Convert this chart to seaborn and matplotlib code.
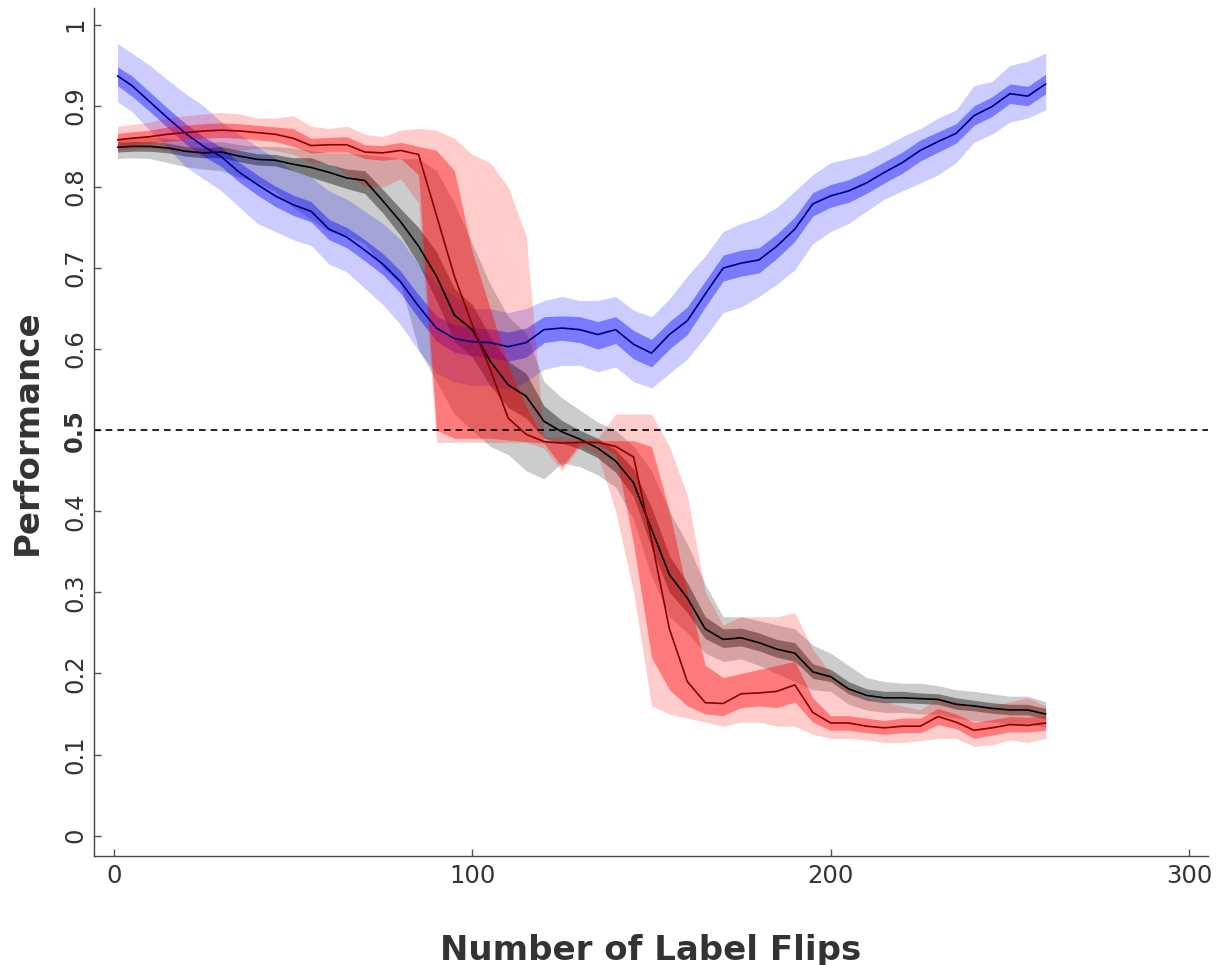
import numpy as np
import pandas as pd
import matplotlib
matplotlib.use("Agg")
import matplotlib.pyplot as plt
import seaborn as sns

# x positions (number of label flips)
flips = [1] + list(range(5, 261, 5))

# blue series: median, inner band, outer band
blue_med = [0.937, 0.925, 0.905, 0.885, 0.866, 0.850, 0.837, 0.818, 0.803, 0.789,
            0.778, 0.770, 0.748, 0.738, 0.722, 0.705, 0.683, 0.653, 0.626, 0.613,
            0.609, 0.608, 0.603, 0.608, 0.624, 0.626, 0.624, 0.618, 0.624, 0.606,
            0.595, 0.618, 0.635, 0.668, 0.700, 0.706, 0.710, 0.727, 0.748, 0.779,
            0.789, 0.795, 0.805, 0.818, 0.830, 0.845, 0.856, 0.866, 0.888, 0.899,
            0.915, 0.912, 0.927]
blue_in_lo = [0.925, 0.912, 0.893, 0.873, 0.853, 0.838, 0.825, 0.806, 0.790, 0.776,
              0.765, 0.757, 0.735, 0.725, 0.709, 0.692, 0.669, 0.638, 0.610, 0.596,
              0.592, 0.590, 0.585, 0.590, 0.608, 0.611, 0.608, 0.600, 0.607, 0.588,
              0.578, 0.600, 0.618, 0.652, 0.684, 0.690, 0.694, 0.712, 0.733, 0.764,
              0.775, 0.781, 0.792, 0.805, 0.817, 0.832, 0.843, 0.854, 0.876, 0.887,
              0.903, 0.900, 0.915]
blue_in_hi = [0.948, 0.937, 0.917, 0.897, 0.878, 0.862, 0.849, 0.830, 0.815, 0.801,
              0.790, 0.782, 0.760, 0.750, 0.735, 0.718, 0.696, 0.667, 0.641, 0.630,
              0.626, 0.625, 0.621, 0.626, 0.640, 0.641, 0.640, 0.634, 0.640, 0.623,
              0.612, 0.634, 0.652, 0.684, 0.716, 0.722, 0.725, 0.742, 0.763, 0.793,
              0.803, 0.809, 0.819, 0.831, 0.843, 0.858, 0.868, 0.878, 0.900, 0.911,
              0.927, 0.924, 0.939]
blue_out_lo = [0.905, 0.893, 0.870, 0.848, 0.825, 0.810, 0.795, 0.775, 0.755, 0.745,
               0.735, 0.728, 0.705, 0.695, 0.675, 0.655, 0.630, 0.598, 0.570, 0.560,
               0.555, 0.555, 0.550, 0.560, 0.575, 0.580, 0.580, 0.572, 0.578, 0.560,
               0.552, 0.570, 0.588, 0.615, 0.645, 0.652, 0.665, 0.680, 0.698, 0.730,
               0.745, 0.755, 0.770, 0.785, 0.795, 0.805, 0.815, 0.830, 0.855, 0.865,
               0.880, 0.885, 0.895]
blue_out_hi = [0.977, 0.965, 0.950, 0.932, 0.915, 0.900, 0.880, 0.865, 0.850, 0.835,
               0.820, 0.812, 0.795, 0.785, 0.770, 0.755, 0.735, 0.705, 0.680, 0.665,
               0.650, 0.650, 0.645, 0.650, 0.660, 0.665, 0.660, 0.660, 0.665, 0.648,
               0.640, 0.662, 0.690, 0.715, 0.745, 0.755, 0.762, 0.775, 0.795, 0.815,
               0.830, 0.835, 0.840, 0.850, 0.862, 0.872, 0.885, 0.895, 0.925, 0.930,
               0.950, 0.955, 0.965]

# red series
red_med = [0.858, 0.860, 0.862, 0.865, 0.867, 0.869, 0.870, 0.869, 0.867, 0.865,
           0.860, 0.851, 0.852, 0.852, 0.843, 0.842, 0.845, 0.840, 0.765, 0.690,
           0.630, 0.575, 0.515, 0.495, 0.486, 0.484, 0.485, 0.485, 0.480, 0.467,
           0.365, 0.255, 0.190, 0.164, 0.163, 0.175, 0.176, 0.178, 0.186, 0.152,
           0.139, 0.139, 0.135, 0.133, 0.135, 0.135, 0.147, 0.140, 0.130, 0.133,
           0.137, 0.136, 0.139]
red_in_lo = [0.850, 0.852, 0.854, 0.856, 0.858, 0.860, 0.861, 0.860, 0.858, 0.856,
             0.850, 0.842, 0.843, 0.843, 0.835, 0.833, 0.835, 0.815, 0.500, 0.490,
             0.490, 0.490, 0.488, 0.486, 0.484, 0.455, 0.483, 0.483, 0.470, 0.360,
             0.220, 0.180, 0.160, 0.150, 0.148, 0.158, 0.160, 0.158, 0.165, 0.140,
             0.130, 0.130, 0.127, 0.125, 0.127, 0.127, 0.137, 0.132, 0.120, 0.124,
             0.128, 0.128, 0.130]
red_in_hi = [0.866, 0.868, 0.870, 0.874, 0.876, 0.878, 0.879, 0.878, 0.876, 0.874,
             0.872, 0.860, 0.861, 0.862, 0.852, 0.851, 0.855, 0.850, 0.845, 0.820,
             0.720, 0.650, 0.580, 0.530, 0.488, 0.487, 0.487, 0.487, 0.487, 0.487,
             0.480, 0.400, 0.300, 0.210, 0.195, 0.200, 0.205, 0.210, 0.215, 0.170,
             0.148, 0.148, 0.145, 0.142, 0.145, 0.145, 0.157, 0.150, 0.140, 0.143,
             0.147, 0.146, 0.148]
red_out_lo = [0.845, 0.846, 0.848, 0.845, 0.845, 0.840, 0.845, 0.845, 0.848, 0.845,
              0.840, 0.830, 0.830, 0.815, 0.800, 0.800, 0.810, 0.780, 0.485, 0.485,
              0.485, 0.485, 0.485, 0.485, 0.478, 0.450, 0.480, 0.470, 0.400, 0.300,
              0.160, 0.150, 0.145, 0.140, 0.135, 0.140, 0.140, 0.135, 0.135, 0.125,
              0.120, 0.120, 0.118, 0.115, 0.115, 0.117, 0.120, 0.120, 0.110, 0.112,
              0.118, 0.115, 0.120]
red_out_hi = [0.875, 0.877, 0.880, 0.885, 0.888, 0.890, 0.892, 0.890, 0.885, 0.885,
              0.888, 0.875, 0.872, 0.875, 0.865, 0.862, 0.870, 0.872, 0.870, 0.860,
              0.840, 0.830, 0.800, 0.740, 0.492, 0.492, 0.490, 0.490, 0.520, 0.520,
              0.520, 0.480, 0.420, 0.300, 0.260, 0.270, 0.270, 0.270, 0.275, 0.230,
              0.200, 0.180, 0.170, 0.165, 0.160, 0.155, 0.170, 0.165, 0.160, 0.160,
              0.165, 0.170, 0.160]

# black series
black_med = [0.849, 0.850, 0.850, 0.848, 0.844, 0.842, 0.843, 0.838, 0.834, 0.833,
             0.828, 0.824, 0.818, 0.811, 0.808, 0.783, 0.757, 0.727, 0.690, 0.642,
             0.624, 0.585, 0.556, 0.542, 0.511, 0.498, 0.489, 0.478, 0.462, 0.435,
             0.378, 0.322, 0.293, 0.255, 0.242, 0.244, 0.238, 0.230, 0.225, 0.202,
             0.196, 0.181, 0.173, 0.170, 0.170, 0.169, 0.168, 0.162, 0.160, 0.157,
             0.155, 0.155, 0.150]
black_in_lo = [0.843, 0.844, 0.844, 0.842, 0.838, 0.836, 0.836, 0.831, 0.827, 0.826,
               0.820, 0.812, 0.805, 0.798, 0.792, 0.768, 0.740, 0.705, 0.660, 0.610,
               0.590, 0.555, 0.528, 0.515, 0.490, 0.484, 0.477, 0.466, 0.448, 0.418,
               0.355, 0.300, 0.275, 0.243, 0.232, 0.234, 0.228, 0.220, 0.215, 0.194,
               0.190, 0.175, 0.167, 0.164, 0.164, 0.163, 0.162, 0.156, 0.154, 0.151,
               0.149, 0.149, 0.144]
black_in_hi = [0.855, 0.856, 0.856, 0.854, 0.850, 0.848, 0.850, 0.845, 0.841, 0.840,
               0.836, 0.836, 0.828, 0.822, 0.820, 0.797, 0.773, 0.750, 0.720, 0.675,
               0.655, 0.615, 0.585, 0.570, 0.530, 0.512, 0.500, 0.490, 0.476, 0.452,
               0.405, 0.345, 0.312, 0.270, 0.255, 0.256, 0.250, 0.242, 0.238, 0.212,
               0.205, 0.190, 0.181, 0.178, 0.178, 0.176, 0.175, 0.170, 0.167, 0.164,
               0.162, 0.162, 0.157]
black_out_lo = [0.835, 0.836, 0.835, 0.830, 0.825, 0.822, 0.820, 0.812, 0.805, 0.795,
                0.775, 0.760, 0.745, 0.740, 0.730, 0.700, 0.680, 0.600, 0.560, 0.520,
                0.500, 0.480, 0.470, 0.450, 0.440, 0.460, 0.455, 0.445, 0.430, 0.390,
                0.320, 0.270, 0.250, 0.225, 0.215, 0.218, 0.210, 0.200, 0.190, 0.180,
                0.178, 0.162, 0.155, 0.152, 0.152, 0.150, 0.150, 0.145, 0.142, 0.140,
                0.138, 0.138, 0.134]
black_out_hi = [0.860, 0.862, 0.862, 0.860, 0.858, 0.855, 0.856, 0.852, 0.850, 0.850,
                0.848, 0.845, 0.842, 0.842, 0.840, 0.838, 0.835, 0.835, 0.820, 0.780,
                0.730, 0.680, 0.640, 0.620, 0.560, 0.540, 0.525, 0.510, 0.500, 0.480,
                0.450, 0.400, 0.360, 0.310, 0.270, 0.270, 0.265, 0.260, 0.255, 0.235,
                0.225, 0.210, 0.195, 0.190, 0.188, 0.188, 0.185, 0.180, 0.178, 0.175,
                0.172, 0.172, 0.165]

y_ticks = [0, 0.1, 0.2, 0.3, 0.4, 0.5, 0.6, 0.7, 0.8, 0.9, 1]
y_tick_labels = ["0", "0.1", "0.2", "0.3", "0.4", "0.5", "0.6", "0.7", "0.8", "0.9", "1"]
x_ticks = [0, 100, 200, 300]

series = [
    ("black", black_med, black_in_lo, black_in_hi, black_out_lo, black_out_hi, "black", "black"),
    ("blue", blue_med, blue_in_lo, blue_in_hi, blue_out_lo, blue_out_hi, "#0000ff", "#00007a"),
    ("red", red_med, red_in_lo, red_in_hi, red_out_lo, red_out_hi, "#ff0000", "#8b0000"),
]

sns.set_style("white")
plt.rcParams['font.family'] = ['DejaVu Sans']

fig, ax = plt.subplots(figsize=(12.19, 9.65), dpi=100)
fig.subplots_adjust(left=0.077, right=0.991, bottom=0.113, top=0.992)

# bands first
for name, med, ilo, ihi, olo, ohi, fill_col, line_col in series:
    ax.fill_between(flips, olo, ohi, color=fill_col, alpha=0.2, linewidth=0)
    ax.fill_between(flips, ilo, ihi, color=fill_col, alpha=0.4, linewidth=0)

# median lines on top
for name, med, ilo, ihi, olo, ohi, fill_col, line_col in series:
    df = pd.DataFrame({"flips": flips, "perf": med})
    sns.lineplot(data=df, x="flips", y="perf", color=line_col, linewidth=1.2, ax=ax)

ax.axhline(0.5, color="black", linestyle=(0, (4, 3)), linewidth=1.2)

ax.set_xlim(-5.6, 305.3)
ax.set_ylim(-0.025, 1.021)
ax.set_xticks(x_ticks)
ax.set_yticks(y_ticks)
ax.set_yticklabels(y_tick_labels)

ax.tick_params(axis="both", direction="in", length=5, width=1, colors="#555555",
               labelcolor="#333333", labelsize=17.5, left=True, bottom=True)
ax.tick_params(axis="x", pad=6)
ax.tick_params(axis="y", pad=5)
for lab in ax.get_yticklabels():
    lab.set_rotation(90)
    lab.set_va("center")
    if lab.get_text() == "0.5":
        lab.set_fontweight("bold")

for side in ["top", "right"]:
    ax.spines[side].set_visible(False)
for side in ["left", "bottom"]:
    ax.spines[side].set_color("#444444")
    ax.spines[side].set_linewidth(1)

ax.set_xlabel("Number of Label Flips", fontsize=24.5, fontweight="bold",
              color="#333333", labelpad=33)
ax.set_ylabel("Performance", fontsize=24.5, fontweight="bold",
              color="#333333", labelpad=14)

fig.savefig("out.png", dpi=100)
